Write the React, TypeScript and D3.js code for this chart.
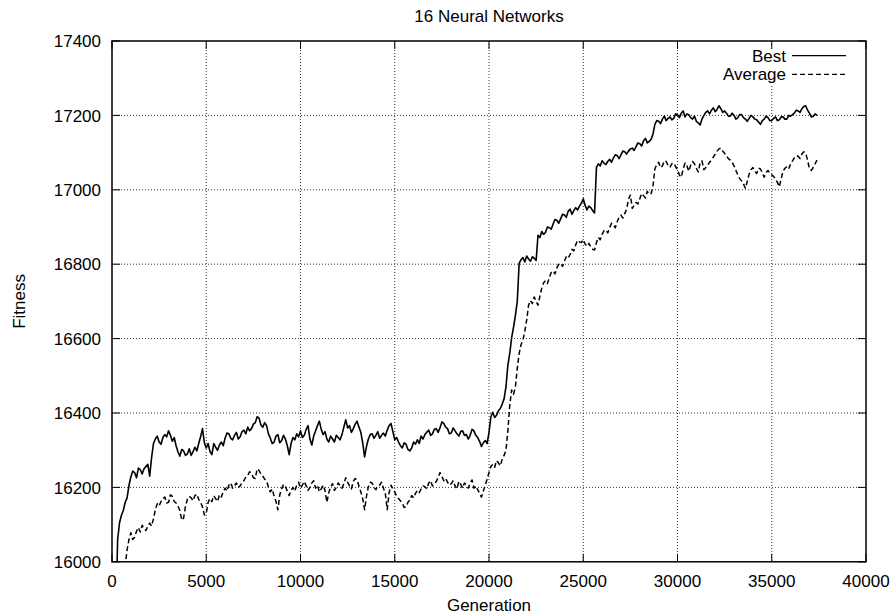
import React from 'react';
import * as d3 from 'd3';

const TITLE = '16 Neural Networks';
const X_LABEL = 'Generation';
const Y_LABEL = 'Fitness';
const SERIES_NAMES = ['Best', 'Average'];

const X_TICKS = [0, 5000, 10000, 15000, 20000, 25000, 30000, 35000, 40000];
const Y_TICKS = [16000, 16200, 16400, 16600, 16800, 17000, 17200, 17400];

const GEN_STEP = 100;
const BEST_START = 200;
const AVG_START = 600;

const BEST = [
  15850, 16060, 16105, 16125, 16138, 16160, 16172, 16205, 16228, 16244, 16240, 16226, 16252, 16248, 16236, 16250, 16256, 16262, 16230, 16280,
  16318, 16330, 16338, 16322, 16316, 16334, 16342, 16336, 16352, 16340, 16324, 16334, 16312, 16296, 16284, 16302, 16298, 16286, 16290, 16304,
  16286, 16296, 16308, 16298, 16318, 16336, 16358, 16320, 16306, 16318, 16296, 16288, 16318, 16308, 16300, 16314, 16322, 16312, 16332, 16346,
  16344, 16332, 16328, 16340, 16348, 16330, 16336, 16350, 16354, 16344, 16362, 16352, 16358, 16370, 16374, 16390, 16386, 16368, 16362, 16374,
  16366, 16344, 16332, 16318, 16322, 16338, 16342, 16320, 16326, 16340, 16330, 16312, 16288, 16318, 16334, 16328, 16344, 16336, 16352, 16334,
  16340, 16356, 16366, 16330, 16314, 16338, 16352, 16366, 16378, 16356, 16342, 16350, 16330, 16322, 16338, 16330, 16322, 16340, 16334, 16328,
  16342, 16362, 16382, 16360, 16366, 16348, 16358, 16370, 16378, 16362, 16348, 16320, 16282, 16310, 16330, 16342, 16344, 16332, 16340, 16350,
  16332, 16340, 16346, 16338, 16354, 16366, 16372, 16350, 16328, 16334, 16322, 16312, 16306, 16320, 16316, 16302, 16298, 16306, 16322, 16316,
  16328, 16318, 16338, 16330, 16342, 16348, 16354, 16340, 16344, 16356, 16358, 16348, 16360, 16376, 16372, 16362, 16358, 16344, 16346, 16360,
  16352, 16344, 16338, 16350, 16352, 16340, 16342, 16330, 16340, 16356, 16352, 16340, 16334, 16324, 16310, 16320, 16326, 16318, 16348, 16390,
  16402, 16388, 16394, 16406, 16412, 16424, 16438, 16470, 16528, 16560, 16602, 16630, 16662, 16700, 16802, 16812, 16818, 16806, 16822, 16814,
  16808, 16820, 16816, 16810, 16878, 16872, 16888, 16880, 16886, 16900, 16898, 16894, 16908, 16920, 16918, 16910, 16922, 16934, 16932, 16926,
  16942, 16948, 16934, 16944, 16952, 16946, 16956, 16964, 16976, 16958, 16946, 16956, 16952, 16944, 16938, 17060, 17070, 17064, 17078, 17072,
  17068, 17076, 17082, 17074, 17086, 17094, 17092, 17084, 17094, 17104, 17102, 17096, 17104, 17110, 17112, 17106, 17116, 17126, 17124, 17118,
  17132, 17138, 17126, 17130, 17136, 17150, 17176, 17186, 17184, 17178, 17190, 17198, 17186, 17192, 17196, 17188, 17192, 17204, 17202, 17194,
  17206, 17212, 17196, 17204, 17202, 17194, 17190, 17198, 17184, 17180, 17174, 17190, 17200, 17208, 17212, 17204, 17214, 17220, 17210, 17216,
  17226, 17218, 17208, 17212, 17206, 17198, 17198, 17206, 17200, 17190, 17194, 17202, 17202, 17194, 17190, 17184, 17192, 17200, 17196, 17190,
  17188, 17182, 17176, 17186, 17190, 17198, 17194, 17186, 17186, 17192, 17196, 17186, 17188, 17196, 17196, 17190, 17190, 17200, 17198, 17202,
  17206, 17214, 17212, 17208, 17218, 17224, 17226, 17214, 17206, 17196, 17198, 17204, 17200,
];

const AVERAGE = [
  15900, 15990, 16032, 16060, 16078, 16060, 16066, 16082, 16092, 16080, 16098, 16090, 16084, 16096, 16104, 16096, 16116, 16140, 16156, 16150,
  16162, 16170, 16174, 16158, 16160, 16180, 16176, 16162, 16158, 16150, 16138, 16112, 16118, 16150, 16168, 16176, 16172, 16164, 16178, 16182,
  16168, 16160, 16148, 16126, 16130, 16160, 16170, 16162, 16178, 16170, 16162, 16180, 16174, 16188, 16198, 16190, 16206, 16212, 16198, 16204,
  16212, 16200, 16204, 16214, 16218, 16228, 16232, 16242, 16238, 16226, 16224, 16250, 16246, 16236, 16230, 16222, 16218, 16200, 16188, 16196,
  16176, 16162, 16140, 16180, 16196, 16208, 16202, 16190, 16178, 16192, 16200, 16190, 16206, 16214, 16198, 16206, 16216, 16204, 16192, 16200,
  16212, 16218, 16198, 16206, 16188, 16196, 16206, 16192, 16160, 16186, 16202, 16210, 16192, 16200, 16212, 16204, 16198, 16210, 16226, 16214,
  16204, 16196, 16216, 16224, 16220, 16204, 16188, 16170, 16140, 16176, 16202, 16214, 16212, 16200, 16194, 16204, 16206, 16214, 16198, 16184,
  16140, 16186, 16206, 16196, 16188, 16176, 16170, 16164, 16158, 16146, 16148, 16160, 16166, 16178, 16172, 16184, 16192, 16186, 16196, 16204,
  16202, 16196, 16212, 16218, 16204, 16210, 16216, 16226, 16240, 16230, 16218, 16224, 16214, 16206, 16210, 16218, 16204, 16196, 16216, 16208,
  16198, 16212, 16206, 16198, 16212, 16220, 16198, 16204, 16194, 16184, 16174, 16190, 16206, 16222, 16240, 16256, 16262, 16254, 16272, 16266,
  16258, 16276, 16286, 16300, 16352, 16420, 16462, 16450, 16470, 16520, 16560, 16584, 16596, 16620, 16650, 16690, 16702, 16694, 16712, 16700,
  16690, 16714, 16736, 16750, 16756, 16748, 16764, 16778, 16782, 16774, 16790, 16800, 16802, 16794, 16808, 16820, 16816, 16826, 16840, 16836,
  16852, 16864, 16860, 16858, 16866, 16854, 16848, 16856, 16846, 16840, 16838, 16858, 16872, 16866, 16880, 16890, 16892, 16884, 16898, 16910,
  16906, 16898, 16914, 16926, 16932, 16924, 16936, 16948, 16975, 16986, 16950, 16958, 16966, 16962, 16976, 16990, 16984, 16978, 16996, 16988,
  16990, 17010, 17056, 17068, 17074, 17060, 17064, 17078, 17076, 17066, 17060, 17070, 17072, 17062, 17054, 17040, 17034, 17056, 17072, 17064,
  17050, 17066, 17076, 17070, 17058, 17048, 17072, 17078, 17054, 17060, 17066, 17074, 17080, 17088, 17096, 17104, 17110, 17112, 17104, 17098,
  17090, 17084, 17080, 17074, 17064, 17052, 17040, 17030, 17024, 17016, 17004, 17022, 17042, 17054, 17060, 17050, 17044, 17058, 17056, 17046,
  17034, 17046, 17052, 17044, 17040, 17036, 17030, 17020, 17008, 17030, 17050, 17058, 17062, 17056, 17070, 17078, 17086, 17092, 17090, 17084,
  17096, 17102, 17098, 17080, 17056, 17052, 17060, 17070, 17080,
];

const FONT = '"Liberation Sans", Arial, Helvetica, sans-serif';

export default function App() {
  const W = 896;
  const H = 615;
  const L = 112;
  const R = 866;
  const T = 41;
  const B = 561.8;

  const x = d3.scaleLinear().domain([0, 40000]).range([L, R]);
  const y = d3.scaleLinear().domain([16000, 17400]).range([B, T]);

  const bestPts: [number, number][] = BEST.map((v, i) => [BEST_START + i * GEN_STEP, v]);
  const avgPts: [number, number][] = AVERAGE.map((v, i) => [AVG_START + i * GEN_STEP, v]);

  const line = d3
    .line<[number, number]>()
    .x((d) => x(d[0]))
    .y((d) => y(d[1]));

  const tickLen = 8;
  const fs = 17;

  return (
    <svg
      width={W}
      height={H}
      style={{ position: 'absolute', left: 0, top: 0, background: '#fff' }}
      fontFamily={FONT}
    >
      <defs>
        <clipPath id="plotclip">
          <rect x={L} y={T} width={R - L} height={B - T} />
        </clipPath>
      </defs>
      <rect x={0} y={0} width={W} height={H} fill="#fff" />

      {/* grid */}
      <g stroke="#333" strokeWidth={1} strokeDasharray="1,2">
        {X_TICKS.slice(1, -1).map((t) => (
          <line key={'gx' + t} x1={x(t)} x2={x(t)} y1={T} y2={B} />
        ))}
        {Y_TICKS.slice(1, -1).map((t) => (
          <line key={'gy' + t} x1={L} x2={R} y1={y(t)} y2={y(t)} />
        ))}
      </g>

      {/* legend background hides grid */}
      <rect x={716} y={47} width={136} height={37} fill="#fff" />

      {/* ticks */}
      <g stroke="#000" strokeWidth={1}>
        {X_TICKS.map((t) => (
          <g key={'tx' + t}>
            <line x1={x(t)} x2={x(t)} y1={B} y2={B - tickLen} />
            <line x1={x(t)} x2={x(t)} y1={T} y2={T + tickLen} />
          </g>
        ))}
        {Y_TICKS.map((t) => (
          <g key={'ty' + t}>
            <line x1={L} x2={L + tickLen} y1={y(t)} y2={y(t)} />
            <line x1={R} x2={R - tickLen} y1={y(t)} y2={y(t)} />
          </g>
        ))}
      </g>

      {/* data */}
      <g clipPath="url(#plotclip)" fill="none" stroke="#000">
        <path d={line(bestPts) || ''} strokeWidth={1.6} strokeLinejoin="round" />
        <path d={line(avgPts) || ''} strokeWidth={1.5} strokeDasharray="5,3" strokeLinejoin="round" />
      </g>

      {/* border */}
      <rect x={L} y={T} width={R - L} height={B - T} fill="none" stroke="#000" strokeWidth={1.5} />

      {/* tick labels */}
      <g fontSize={fs} fill="#000">
        {X_TICKS.map((t) => (
          <text key={'lx' + t} x={x(t)} y={587} textAnchor="middle">
            {t}
          </text>
        ))}
        {Y_TICKS.map((t) => (
          <text key={'ly' + t} x={101} y={y(t)} dy="0.36em" textAnchor="end">
            {t}
          </text>
        ))}
      </g>

      {/* titles */}
      <text x={(L + R) / 2} y={21.5} textAnchor="middle" fontSize={fs}>
        {TITLE}
      </text>
      <text x={(L + R) / 2} y={611} textAnchor="middle" fontSize={fs}>
        {X_LABEL}
      </text>
      <text
        transform={`translate(25, ${(T + B) / 2}) rotate(-90)`}
        textAnchor="middle"
        fontSize={fs}
      >
        {Y_LABEL}
      </text>

      {/* legend */}
      <g fontSize={fs}>
        <text x={786} y={61.7} textAnchor="end">
          {SERIES_NAMES[0]}
        </text>
        <line x1={792} x2={846} y1={55.7} y2={55.7} stroke="#000" strokeWidth={1.3} />
        <text x={786} y={80} textAnchor="end">
          {SERIES_NAMES[1]}
        </text>
        <line x1={792} x2={846} y1={74.3} y2={74.3} stroke="#000" strokeWidth={1.3} strokeDasharray="5,3" />
      </g>
    </svg>
  );
}
